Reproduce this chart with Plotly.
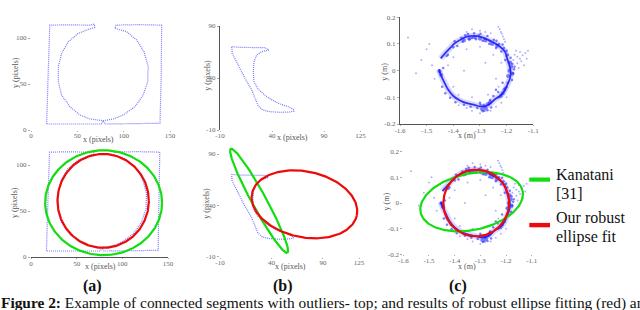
import numpy as np
import plotly.graph_objects as go

W, H = 640, 310

# ---------------- data ----------------
# (a) connected contour: square with inner circle (pixels)
a_x = [69, 61.8, 51, 40.3, 33, 29.5, 29.5, 33, 42, 52.9, 63.6, 76.3, 78, 88.8, 99.6, 112.2, 121.1,
       125.9, 126.5, 121.9, 114, 103.2, 90.6, 91.7, 116, 141, 140.5, 139.2, 110, 80, 78, 76, 50,
       16.9, 18.5, 20.3, 40, 63.6, 68.3, 69]
a_y = [111.6, 109.4, 105, 96, 83.4, 68.8, 52.5, 38, 25.4, 16.3, 12, 10.9, 10.1, 12, 16.3, 25.4, 38,
       52.5, 68.8, 85.1, 97.8, 106.9, 110.5, 114, 114.5, 114, 60, 7.3, 6.8, 6.5, 10, 6.5, 6.5,
       6.5, 60, 114, 114.3, 114, 115.2, 111.6]

# (b) connected contour (pixels)
b_x = [1.25, 9.2, 25.3, 33.3, 37.1, 30.1, 25.3, 22.7, 22, 22.7, 26.8, 34.9, 46.1, 55.7, 60.5, 61.2,
       57.3, 47.7, 38.1, 31.1, 26.8, 20.5, 14, 9.2, 4.4, 1.8, 1.25]
b_y = [70.1, 69.5, 69.2, 69.2, 66.9, 65.3, 62.1, 55.7, 46.1, 36.4, 29.1, 22, 15.6, 12.4, 9.9, 8.3,
       7.3, 7, 7.6, 9.2, 13.1, 28.5, 39.7, 49.3, 58.9, 63.7, 70.1]

# (c) noisy ring of points (metres)
c_ring_x = [-1.4474, -1.431, -1.4125, -1.394, -1.375, -1.350, -1.325, -1.300, -1.275, -1.250,
            -1.225, -1.206, -1.198, -1.190, -1.185, -1.1875, -1.198, -1.210, -1.225, -1.244,
            -1.269, -1.294, -1.319, -1.350, -1.375, -1.400, -1.419, -1.435, -1.447, -1.454]
c_ring_y = [0.046, 0.065, 0.084, 0.103, 0.115, 0.1275, 0.130, 0.1275, 0.118, 0.106,
            0.090, 0.071, 0.046, 0.021, -0.004, -0.029, -0.054, -0.079, -0.095, -0.107,
            -0.129, -0.135, -0.129, -0.122, -0.112, -0.095, -0.072, -0.041, -0.016, 0.005]
c_blob_x = [-1.190, -1.182, -1.178, -1.195, -1.186, -1.215, -1.208, -1.222, -1.270, -1.278, -1.285,
            -1.262, -1.292, -1.452, -1.446, -1.340, -1.320, -1.300, -1.360, -1.280, -1.255, -1.235]
c_blob_y = [0.000, 0.015, -0.012, -0.020, 0.030, -0.085, -0.072, -0.095, -0.125, -0.140, -0.132,
            -0.118, -0.145, -0.002, -0.015, 0.120, 0.125, 0.120, 0.113, 0.113, 0.100, 0.093]
c_band_x = [-1.420, -1.400, -1.385, -1.365, -1.340, -1.315, -1.290, -1.265, -1.240, -1.220, -1.200,
            -1.185, -1.178, -1.172, -1.180, -1.196, -1.205, -1.232, -1.250, -1.262, -1.300, -1.310,
            -1.335, -1.360, -1.392, -1.412, -1.430, -1.442, -1.438, -1.425, -1.395, -1.370, -1.345,
            -1.322, -1.298, -1.272, -1.248, -1.228, -1.210, -1.195, -1.205, -1.215, -1.240, -1.283,
            -1.355, -1.330, -1.305, -1.282, -1.262, -1.238, -1.215, -1.200, -1.192, -1.176, -1.170,
            -1.200, -1.230, -1.258, -1.290, -1.272, -1.298]
c_band_y = [0.060, 0.088, 0.092, 0.108, 0.118, 0.118, 0.112, 0.100, 0.085, 0.072, 0.055,
            0.048, 0.025, 0.005, -0.035, -0.045, -0.065, -0.080, -0.095, -0.110, -0.120, -0.140,
            -0.135, -0.128, -0.118, -0.102, -0.085, -0.060, 0.010, 0.055, 0.110, 0.123, 0.137,
            0.140, 0.138, 0.130, 0.116, 0.100, 0.085, 0.060, 0.040, -0.045, -0.072, -0.150,
            0.133, 0.122, 0.133, 0.120, 0.110, 0.112, 0.098, 0.075, 0.030, -0.010, 0.015,
            -0.062, -0.100, -0.138, -0.152, -0.148, -0.128]
c_out_x = [-1.170, -1.160, -1.150, -1.140, -1.130, -1.125, -1.145, -1.160, -1.135, -1.155, -1.175,
           -1.120, -1.150, -1.165, -1.231, -1.226, -1.222, -1.218, -1.214, -1.210, -1.206,
           -1.300, -1.280, -1.350, -1.260, -1.330, -1.570, -1.520, -1.500, -1.480, -1.470, -1.540,
           -1.490, -1.300, -1.260, -1.240, -1.330, -1.350, -1.380, -1.220, -1.200,
           -1.40, -1.35, -1.30, -1.25, -1.40, -1.38, -1.33, -1.27, -1.24, -1.36, -1.42, -1.28,
           -1.22, -1.23]
c_out_y = [0.060, 0.052, 0.070, 0.058, 0.066, 0.045, 0.035, 0.028, 0.020, 0.010, 0.040,
           0.075, 0.045, 0.075, 0.165, 0.155, 0.145, 0.138, 0.128, 0.118, 0.108,
           0.150, 0.145, 0.145, 0.140, 0.155, 0.124, 0.040, 0.080, 0.020, -0.030, -0.010,
           0.100, -0.160, -0.150, -0.135, -0.150, -0.140, -0.130, -0.120, -0.100,
           0.05, 0.08, 0.09, 0.06, -0.06, -0.09, -0.10, -0.09, -0.03, 0.0, 0.02, 0.03,
           0.03, -0.06]

# ellipse fits: centre x, centre y, semi-axis a, semi-axis b, angle (deg)
a_kanatani = (79.5, 59.0, 64.0, 57.0, 0.0)
a_robust = (79.0, 61.0, 50.0, 51.0, 0.0)
b_kanatani = (28.0, 44.4, 57.6, 7.0, -61.5)
b_robust = (72.0, 41.0, 52.0, 32.0, -12.0)
c_kanatani = (-1.334, 0.005, 0.203, 0.110, 12.0)
c_robust = (-1.316, 0.0, 0.128, 0.130, -10.0)

a_xticks = [0, 50, 100, 150]
a_yticks = [0, 50, 100]
b_xticks = [-10, 40, 90, 125]
b_yticks = [-10, 40, 90]
c_xticks = [-1.6, -1.5, -1.4, -1.3, -1.2, -1.1]
c_yticks = [-0.2, -0.1, 0, 0.1, 0.2]

legend_labels = [["Kanatani", "[31]"], ["Our robust", "ellipse fit"]]
caption_bold = "Figure 2:"
caption_rest = " Example of connected segments with outliers- top; and results of robust ellipse fitting (red) and"

# ---------------- helpers ----------------
BLUE_LINE = "rgba(105,105,255,0.9)"
GREEN = "#11dd11"
RED = "#ee0a0a"
SERIF = "Liberation Serif"


def ellipse(p, n=241):
    cx, cy, a, b, deg = p
    t = np.linspace(0, 2 * np.pi, n)
    th = np.deg2rad(deg)
    x = cx + a * np.cos(t) * np.cos(th) - b * np.sin(t) * np.sin(th)
    y = cy + a * np.cos(t) * np.sin(th) + b * np.sin(t) * np.cos(th)
    return x, y


def dom(v0, p0, v1, p1, rng, vertical=False):
    s = (p1 - p0) / (v1 - v0)
    a = p0 + (rng[0] - v0) * s
    b = p0 + (rng[1] - v0) * s
    if vertical:
        return sorted([1 - a / H, 1 - b / H])
    return sorted([a / W, b / W])


def fmt(v):
    return "%g" % v


panels = [
    (1, (0, 31, 150, 170), (0, 130, 100, 38), [0, 150], [0, 120], a_xticks, a_yticks, False, False),
    (2, (-10, 220, 125, 360.4), (-10, 130, 90, 26), [-10, 125], [-10, 90], b_xticks, b_yticks, False, True),
    (3, (-1.6, 400, -1.1, 533.3), (-0.2, 124, 0.2, 17.3), [-1.6, -1.1], [-0.2, 0.2], c_xticks, c_yticks, True, True),
    (4, (0, 31, 150, 168), (0, 257, 100, 165), [0, 150], [0, 125], a_xticks, a_yticks, True, False),
    (5, (-10, 220, 125, 359), (-10, 256.7, 90, 154), [-10, 125], [-10, 98], b_xticks, b_yticks, False, False),
    (6, (-1.6, 403.3, -1.1, 531.7), (-0.2, 254.3, 0.2, 151.7), [-1.6, -1.1], [-0.2, 0.2], c_xticks, c_yticks, False, False),
]

fig = go.Figure()
layout = {}
tickfont = dict(family=SERIF, size=7, color="#666")
for (i, xc, yc, xr, yr, xt, yt, xl, yl) in panels:
    sx = "" if i == 1 else str(i)
    layout["xaxis" + sx] = dict(
        domain=dom(xc[0], xc[1], xc[2], xc[3], xr), range=xr, anchor="y" + sx,
        tickvals=xt, ticktext=[fmt(v) for v in xt], tickfont=tickfont,
        showgrid=False, zeroline=False, ticks="outside", ticklen=1, tickcolor="#aaa",
        ticklabelstandoff=-2, automargin=False,
        showline=xl, linecolor="#555", linewidth=1.2, fixedrange=True)
    layout["yaxis" + sx] = dict(
        domain=dom(yc[0], yc[1], yc[2], yc[3], yr, vertical=True), range=yr, anchor="x" + sx,
        tickvals=yt, ticktext=[fmt(v) for v in yt], tickfont=tickfont,
        showgrid=False, zeroline=False, ticks="outside", ticklen=2, tickcolor="#aaa",
        automargin=False,
        showline=yl, linecolor="#555", linewidth=1.2, fixedrange=True)


def ax(i):
    return ("x" if i == 1 else "x%d" % i), ("y" if i == 1 else "y%d" % i)


def add(trace, i):
    xa, ya = ax(i)
    trace.update(xaxis=xa, yaxis=ya, showlegend=False, hoverinfo="skip")
    fig.add_trace(trace)


# contours (dotted chains of edge pixels)
for i in (1, 4):
    add(go.Scatter(x=a_x, y=a_y, mode="lines", line=dict(color=BLUE_LINE, width=1.2, dash="1px,1px")), i)
for i in (2, 5):
    add(go.Scatter(x=b_x, y=b_y, mode="lines", line=dict(color=BLUE_LINE, width=1.2, dash="1px,1px")), i)

# ring of points
for i in (3, 6):
    add(go.Scatter(x=c_ring_x, y=c_ring_y, mode="lines", line=dict(color="rgba(40,40,255,0.18)", width=6, shape="spline")), i)
    add(go.Scatter(x=c_ring_x, y=c_ring_y, mode="lines", line=dict(color="rgba(20,20,240,0.85)", width=1.8, shape="spline")), i)
    add(go.Scatter(x=c_blob_x, y=c_blob_y, mode="markers", marker=dict(color="rgba(20,20,255,0.5)", size=4, line=dict(width=0))), i)
    add(go.Scatter(x=c_band_x, y=c_band_y, mode="markers", marker=dict(color="rgba(40,40,255,0.6)", size=2.5, line=dict(width=0))), i)
    add(go.Scatter(x=c_out_x, y=c_out_y, mode="markers", marker=dict(color="rgba(60,60,255,0.4)", size=2, line=dict(width=0))), i)

# fitted ellipses
for i, (kp, rp) in zip((4, 5, 6), ((a_kanatani, a_robust), (b_kanatani, b_robust), (c_kanatani, c_robust))):
    ex, ey = ellipse(kp)
    add(go.Scatter(x=ex, y=ey, mode="lines", line=dict(color=GREEN, width=2.2)), i)
    ex, ey = ellipse(rp)
    add(go.Scatter(x=ex, y=ey, mode="lines", line=dict(color=RED, width=2.2)), i)

annotations = []


def ann(text, px, py, size=8, angle=0, xanchor="center", color="#555", family=SERIF):
    annotations.append(dict(text=text, x=px / W, y=1 - py / H, xref="paper", yref="paper",
                            showarrow=False, xanchor=xanchor, yanchor="middle", textangle=angle,
                            borderpad=0, font=dict(family=family, size=size, color=color)))


# axis titles
for (tx, px, py) in [("x (pixels)", 98, 139), ("x (pixels)", 100, 266.5), ("x (pixels)", 292, 137.5),
                     ("x (pixels)", 290, 266.7), ("x (m)", 466.7, 135), ("x (m)", 466.7, 266.7)]:
    ann(tx, px, py)
for (tx, px, py) in [("y (pixels)", 15, 73), ("y (pixels)", 15, 203), ("y (pixels)", 206.7, 75),
                     ("y (pixels)", 206.7, 203), ("y (m)", 385, 71.7), ("y (m)", 386.7, 201.7)]:
    ann(tx, px, py, angle=-90)

# panel labels
for (tx, px) in [("(a)", 92), ("(b)", 283), ("(c)", 458)]:
    ann("<b>%s</b>" % tx, px, 286, size=16, color="#111")

# legend text
ann(legend_labels[0][0], 555, 174, size=16, xanchor="left", color="#111")
ann(legend_labels[0][1], 555, 193.5, size=16, xanchor="left", color="#111")
ann(legend_labels[1][0], 555, 217.5, size=16, xanchor="left", color="#111")
ann(legend_labels[1][1], 555, 237, size=16, xanchor="left", color="#111")

# caption
ann("<b>%s</b>%s" % (caption_bold, caption_rest), 0, 302.5, size=15.4, xanchor="left", color="#111")

shapes = [
    dict(type="rect", xref="paper", yref="paper", x0=529.3 / W, x1=550 / W, y0=1 - 181.7 / H, y1=1 - 177.5 / H,
         fillcolor=GREEN, line=dict(width=0)),
    dict(type="rect", xref="paper", yref="paper", x0=529.3 / W, x1=550 / W, y0=1 - 227.3 / H, y1=1 - 222.9 / H,
         fillcolor=RED, line=dict(width=0)),
]

fig.update_layout(width=W, height=H, margin=dict(l=0, r=0, t=0, b=0, pad=0), autosize=False,
                  paper_bgcolor="white", plot_bgcolor="white", annotations=annotations, shapes=shapes,
                  hovermode=False, **layout)
fig.write_html("out.html", config={"displayModeBar": False, "staticPlot": True},
               post_script="document.body.style.margin='0px';document.body.style.overflow='hidden';")
